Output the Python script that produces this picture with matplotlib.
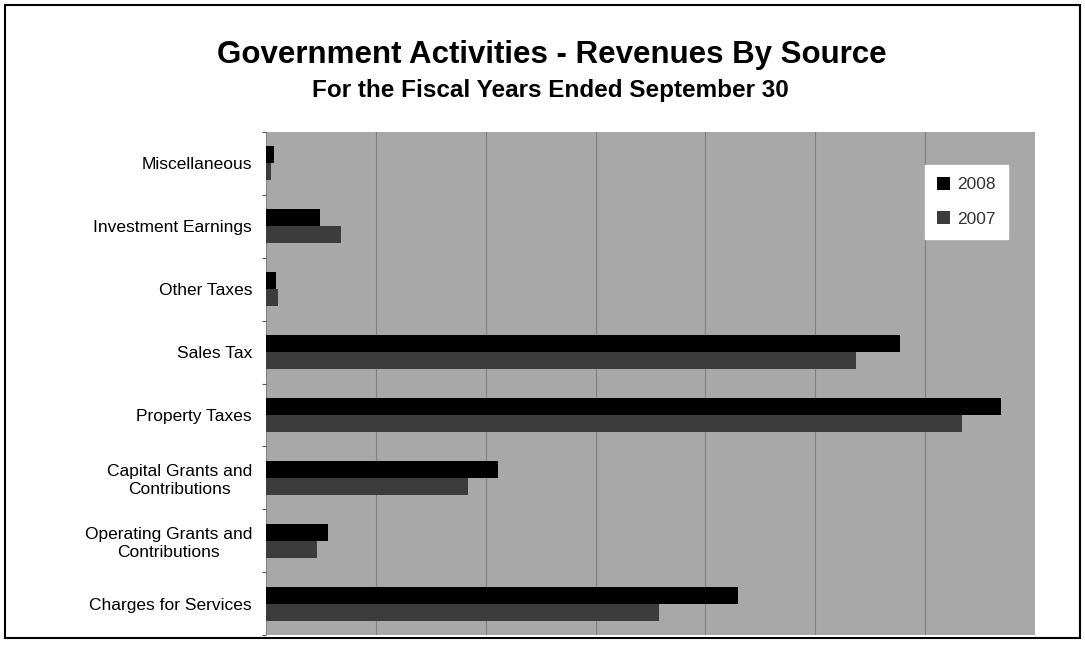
import matplotlib
matplotlib.use("Agg")
import matplotlib.pyplot as plt
import numpy as np
from matplotlib.patches import Rectangle

categories = ["Charges for Services", "Operating Grants and\nContributions",
              "Capital Grants and\nContributions", "Property Taxes", "Sales Tax",
              "Other Taxes", "Investment Earnings", "Miscellaneous"]
values_2008 = [43.0, 5.6, 21.1, 66.9, 57.7, 0.9, 4.9, 0.7]
values_2007 = [35.8, 4.6, 18.4, 63.4, 53.7, 1.1, 6.8, 0.5]
series_names = ["2008", "2007"]

plt.rcParams['font.family'] = ['Liberation Sans', 'DejaVu Sans']

fig = plt.figure(figsize=(10.85, 6.48), dpi=100)
fig.patches.append(Rectangle((5/1085, 10/648), 1075/1085, 633/648, transform=fig.transFigure,
                             fill=False, edgecolor='black', linewidth=1.5))

ax = fig.add_axes([266/1085, 13/648, 769/1085, 503/648])
ax.set_facecolor('#a8a8a8')

y = np.arange(len(categories))
h = 0.27
ax.barh(y + h/2, values_2008, height=h, color='black', label=series_names[0], zorder=3)
ax.barh(y - h/2, values_2007, height=h, color='#3c3c3c', label=series_names[1], zorder=3)

ax.set_xlim(0, 70)
ax.set_ylim(-0.5, len(categories) - 0.5)
ax.set_xticks(np.linspace(0, 70, 8))
ax.set_xticklabels([])
ax.tick_params(axis='x', length=0)
ax.grid(axis='x', color='#808080', linewidth=0.8, zorder=0)
ax.set_yticks(np.arange(len(categories) + 1) - 0.5, minor=False)
ax.set_yticklabels([])
ax.tick_params(axis='y', which='major', length=3, color='#555555')
ax.set_yticks(y, minor=True)
ax.set_yticklabels(categories, minor=True, fontsize=12.5)
ax.tick_params(axis='y', which='minor', length=0, pad=10)
for lab in ax.get_yticklabels(minor=True):
    lab.set_multialignment('center')
for s in ax.spines.values():
    s.set_visible(False)

leg = ax.legend(loc='upper right', bbox_to_anchor=(0.976, 0.952), frameon=True, fancybox=False,
                edgecolor='white', facecolor='white', framealpha=1, fontsize=12.5,
                handlelength=0.75, handleheight=0.75, labelspacing=1.1, borderpad=0.7,
                handletextpad=0.4)
for t in leg.get_texts():
    t.set_color('#333333')

fig.text(0.509, 1 - 55/648, "Government Activities - Revenues By Source", ha='center', va='center',
         fontsize=22.5, fontweight='bold')
fig.text(0.507, 1 - 91/648, "For the Fiscal Years Ended September 30", ha='center', va='center',
         fontsize=17.5, fontweight='bold')

fig.savefig("out.png", dpi=100, facecolor='white')
